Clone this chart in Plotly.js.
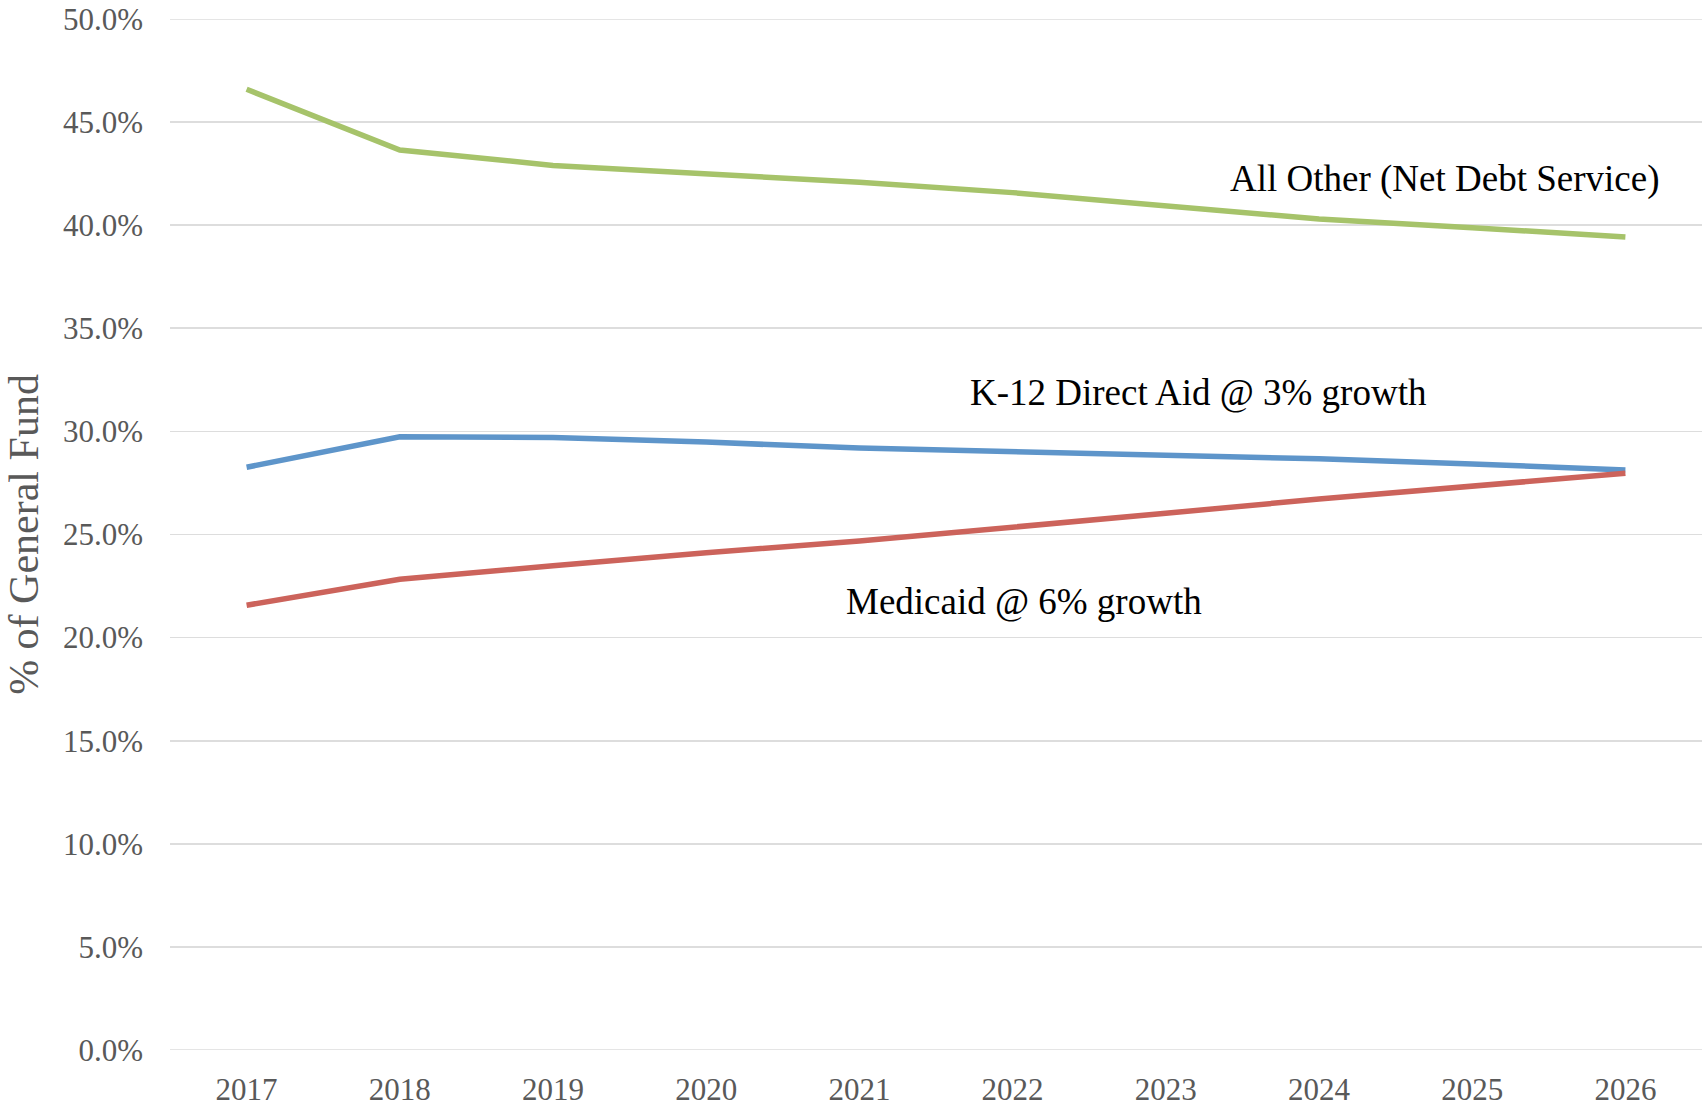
<!DOCTYPE html>
<html>
<head>
<meta charset="utf-8">
<script src="https://cdn.plot.ly/plotly-3.0.1.min.js"></script>
<style>html,body{margin:0;padding:0;background:#fff;}#chart{width:1705px;height:1106px;}</style>
</head>
<body>
<div id="chart"></div>
<script>
const years = ['2017','2018','2019','2020','2021','2022','2023','2024','2025','2026'];
const allOther = [46.59, 43.65, 42.90, 42.47, 42.08, 41.58, 40.93, 40.30, 39.88, 39.43];
const k12 = [28.26, 29.74, 29.70, 29.48, 29.19, 29.02, 28.85, 28.67, 28.42, 28.13];
const medicaid = [21.57, 22.83, 23.49, 24.12, 24.68, 25.33, 26.03, 26.72, 27.33, 27.97];
const labels = ['All Other (Net Debt Service)', 'K-12 Direct Aid @ 3% growth', 'Medicaid @ 6% growth'];
const yMin = 0, yMax = 50;

const font = 'Liberation Serif, Times New Roman, serif';
const gridColor = '#DDDDDD';
const traces = [
  {x: years, y: allOther, type: 'scatter', mode: 'lines', line: {color: '#A6C36A', width: 5.5}, name: labels[0]},
  {x: years, y: k12, type: 'scatter', mode: 'lines', line: {color: '#5E95CA', width: 5.5}, name: labels[1]},
  {x: years, y: medicaid, type: 'scatter', mode: 'lines', line: {color: '#CC635B', width: 5.5}, name: labels[2]}
];
const layout = {
  width: 1705, height: 1106,
  margin: {l: 170, r: 3, t: 19, b: 56},
  paper_bgcolor: '#fff', plot_bgcolor: '#fff',
  showlegend: false,
  font: {family: font, color: '#595959', size: 31},
  xaxis: {type: 'category', range: [-0.5, 9.5], showgrid: false, zeroline: false, showline: false,
          ticks: '', tickfont: {family: font, size: 31, color: '#595959'}, ticklabelstandoff: 18},
  yaxis: {range: [yMin, yMax], dtick: 5, tick0: 0, tickformat: '.1f', ticksuffix: '%',
          showgrid: true, gridcolor: gridColor, gridwidth: 1.6, zeroline: false, showline: false,
          ticks: '', tickfont: {family: font, size: 31, color: '#595959'}, ticklabelstandoff: 26,
          title: {text: '% of General Fund', font: {family: font, size: 42, color: '#595959'}, standoff: 11}},
  shapes: [yMin, yMax].map(v => ({type: 'line', xref: 'paper', yref: 'y', x0: 0, x1: 1, y0: v, y1: v,
          layer: 'below', line: {color: gridColor, width: 1.6}})),
  annotations: [
    {xref: 'paper', yref: 'y', x: 0.6906, y: 42.24, xanchor: 'left', yanchor: 'middle', showarrow: false,
     text: labels[0], font: {family: font, size: 37, color: '#000'}},
    {xref: 'paper', yref: 'y', x: 0.5209, y: 31.89, xanchor: 'left', yanchor: 'middle', showarrow: false,
     text: labels[1], font: {family: font, size: 37, color: '#000'}},
    {xref: 'paper', yref: 'y', x: 0.440, y: 21.73, xanchor: 'left', yanchor: 'middle', showarrow: false,
     text: labels[2], font: {family: font, size: 37, color: '#000'}}
  ]
};
Plotly.newPlot('chart', traces, layout, {displayModeBar: false, staticPlot: true});
</script>
</body>
</html>
